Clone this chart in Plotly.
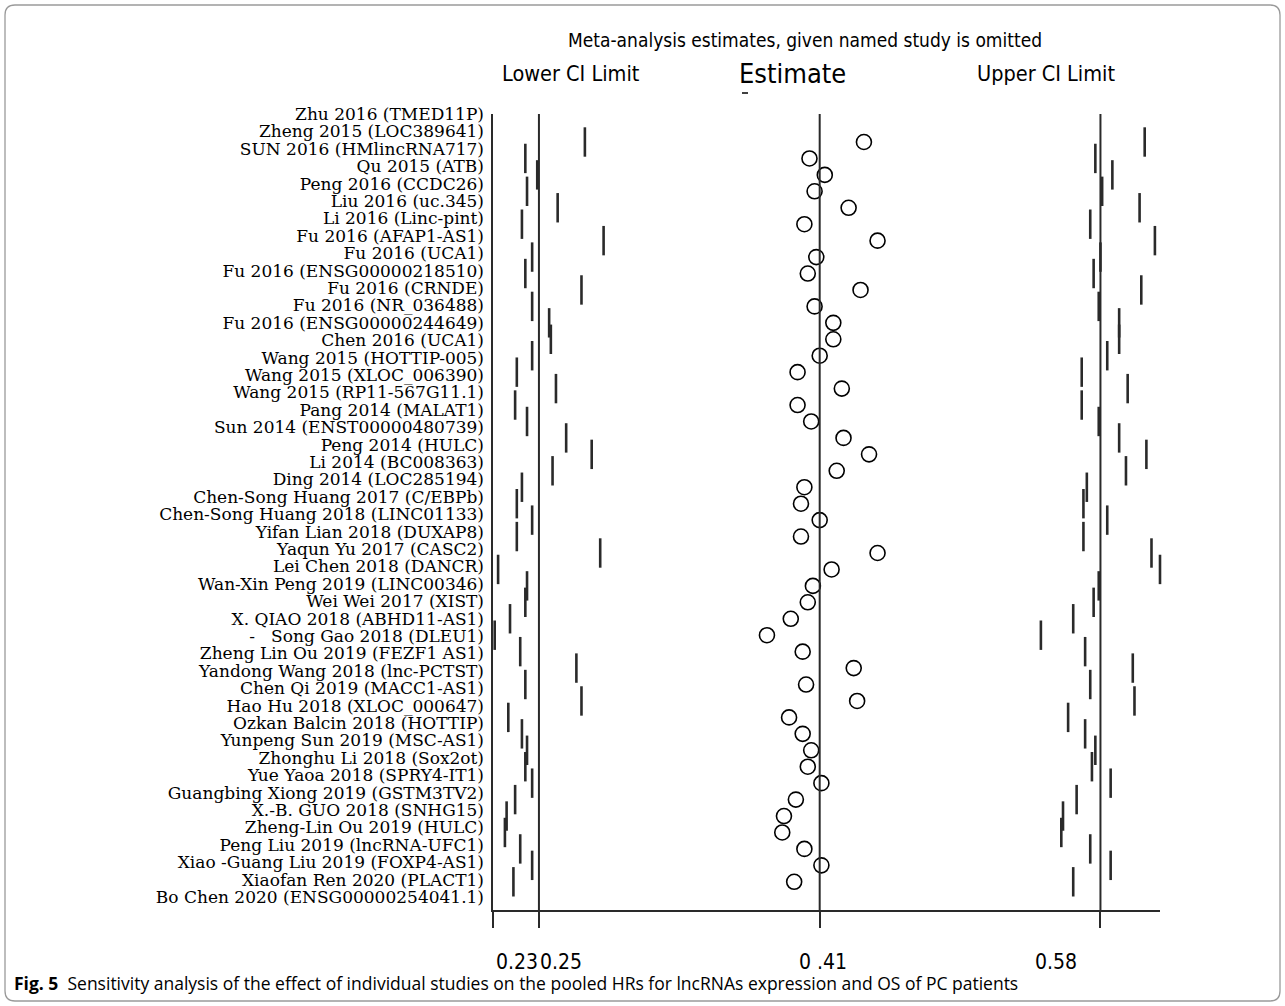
import plotly.graph_objects as go

# Study omitted in each sensitivity run
studies = [
    "Zhu 2016 (TMED11P)", "Zheng 2015 (LOC389641)", "SUN 2016 (HMlincRNA717)",
    "Qu 2015 (ATB)", "Peng 2016 (CCDC26)", "Liu 2016 (uc.345)", "Li 2016 (Linc-pint)",
    "Fu 2016 (AFAP1-AS1)", "Fu 2016 (UCA1)", "Fu 2016 (ENSG00000218510)",
    "Fu 2016 (CRNDE)", "Fu 2016 (NR_036488)", "Fu 2016 (ENSG00000244649)",
    "Chen 2016 (UCA1)", "Wang 2015 (HOTTIP-005)", "Wang 2015 (XLOC_006390)",
    "Wang 2015 (RP11-567G11.1)", "Pang 2014 (MALAT1)", "Sun 2014 (ENST00000480739)",
    "Peng 2014 (HULC)", "Li 2014 (BC008363)", "Ding 2014 (LOC285194)",
    "Chen-Song Huang 2017 (C/EBPb)", "Chen-Song Huang 2018 (LINC01133)",
    "Yifan Lian 2018 (DUXAP8)", "Yaqun Yu 2017 (CASC2)", "Lei Chen 2018 (DANCR)",
    "Wan-Xin Peng 2019 (LINC00346)", "Wei Wei 2017 (XIST)", "X. QIAO 2018 (ABHD11-AS1)",
    "-   Song Gao 2018 (DLEU1)", "Zheng Lin Ou 2019 (FEZF1 AS1)",
    "Yandong Wang 2018 (lnc-PCTST)", "Chen Qi 2019 (MACC1-AS1)",
    "Hao Hu 2018 (XLOC_000647)", "Ozkan Balcin 2018 (HOTTIP)",
    "Yunpeng Sun 2019 (MSC-AS1)", "Zhonghu Li 2018 (Sox2ot)",
    "Yue Yaoa 2018 (SPRY4-IT1)", "Guangbing Xiong 2019 (GSTM3TV2)",
    "X.-B. GUO 2018 (SNHG15)", "Zheng-Lin Ou 2019 (HULC)",
    "Peng Liu 2019 (lncRNA-UFC1)", "Xiao -Guang Liu 2019 (FOXP4-AS1)",
    "Xiaofan Ren 2020 (PLACT1)", "Bo Chen 2020 (ENSG00000254041.1)",
]

# Pooled HR and its 95% CI with the named study left out
lower_ci = [
    0.272, 0.237, 0.244, 0.238, 0.256, 0.235, 0.283, 0.241, 0.237, 0.270,
    0.241, 0.251, 0.252, 0.241, 0.232, 0.255, 0.231, 0.238, 0.261, 0.276,
    0.253, 0.235, 0.232, 0.241, 0.232, 0.281, 0.221, 0.238, 0.237, 0.228,
    0.219, 0.234, 0.267, 0.237, 0.270, 0.227, 0.235, 0.238, 0.237, 0.241,
    0.231, 0.226, 0.225, 0.234, 0.241, 0.230,
]
estimate = [
    0.436, 0.404, 0.413, 0.407, 0.427, 0.401, 0.444, 0.408, 0.403, 0.434,
    0.407, 0.418, 0.418, 0.410, 0.397, 0.423, 0.397, 0.405, 0.424, 0.439,
    0.420, 0.401, 0.399, 0.410, 0.399, 0.444, 0.417, 0.406, 0.403, 0.393,
    0.379, 0.400, 0.430, 0.402, 0.432, 0.392, 0.400, 0.405, 0.403, 0.411,
    0.396, 0.389, 0.388, 0.401, 0.411, 0.395,
]
upper_ci = [
    0.601, 0.572, 0.582, 0.576, 0.598, 0.569, 0.607, 0.575, 0.571, 0.599,
    0.574, 0.586, 0.586, 0.579, 0.564, 0.591, 0.564, 0.574, 0.586, 0.602,
    0.590, 0.567, 0.565, 0.579, 0.565, 0.605, 0.610, 0.574, 0.571, 0.559,
    0.540, 0.566, 0.594, 0.569, 0.595, 0.556, 0.566, 0.572, 0.570, 0.581,
    0.561, 0.553, 0.552, 0.569, 0.581, 0.559,
]

# Overall (all studies) estimate and CI, plus axis limits
pooled_lower = 0.245
pooled_estimate = 0.41
pooled_upper = 0.575
axis_min = 0.218
axis_max = 0.610
tick_values = [axis_min, pooled_lower, pooled_estimate, pooled_upper]
tick_labels = ["0.23", "0.25", "0 .41", "0.58"]

W, H = 1285, 1006
ML, MR, MT, MB = 493, 125, 114, 96
plot_w = W - ML - MR
plot_h = H - MT - MB


def pxx(px):
    return (px - ML) / plot_w


def pxy(py):
    return (MT + plot_h - py) / plot_h


rows = list(range(len(studies)))
dark = "#2a2a2a"

fig = go.Figure()

# lower and upper limits as short vertical strokes
for vals in (lower_ci, upper_ci):
    fig.add_trace(go.Scatter(
        x=vals, y=rows, mode="markers", cliponaxis=False,
        marker=dict(symbol="line-ns", size=21, line=dict(width=2.6, color=dark)),
        hoverinfo="skip", showlegend=False,
    ))

# point estimates as open circles
fig.add_trace(go.Scatter(
    x=estimate, y=rows, mode="markers", cliponaxis=False,
    marker=dict(symbol="circle-open", size=15, color="black", line=dict(width=1.6, color="black")),
    hoverinfo="skip", showlegend=False,
))

# carrier for the study-name axis
fig.add_trace(go.Scatter(
    x=[axis_min] * len(studies), y=rows, yaxis="y2", mode="markers",
    marker=dict(opacity=0), hoverinfo="skip", showlegend=False,
))

# vertical reference lines at the pooled estimate and its limits
shapes = []
for v in (pooled_lower, pooled_estimate, pooled_upper):
    shapes.append(dict(type="line", xref="x", yref="y domain", x0=v, x1=v, y0=0, y1=1,
                       line=dict(color=dark, width=2)))

# short stray dash below the "Estimate" heading
shapes.append(dict(type="line", xref="paper", yref="paper",
                   x0=pxx(742), x1=pxx(748), y0=pxy(93), y1=pxy(93),
                   line=dict(color="black", width=1.5)))

# rounded outer frame
x0, y0, x1, y1, r = 5, 5, 1280, 1001, 10
pts = lambda a, b: f"{pxx(a):.5f},{pxy(b):.5f}"
path = (f"M {pts(x0 + r, y0)} L {pts(x1 - r, y0)} Q {pts(x1, y0)} {pts(x1, y0 + r)} "
        f"L {pts(x1, y1 - r)} Q {pts(x1, y1)} {pts(x1 - r, y1)} "
        f"L {pts(x0 + r, y1)} Q {pts(x0, y1)} {pts(x0, y1 - r)} "
        f"L {pts(x0, y0 + r)} Q {pts(x0, y0)} {pts(x0 + r, y0)} Z")
shapes.append(dict(type="path", xref="paper", yref="paper", path=path,
                   line=dict(color="#9a9a9a", width=1.3)))

narrow = "Liberation Sans Narrow, DejaVu Sans Condensed, Arial Narrow, sans-serif"
annotations = [
    dict(text="Meta-analysis estimates, given named study is omitted", x=pxx(805), y=pxy(40),
         font=dict(family=narrow, size=19, color="black")),
    dict(text="Lower CI Limit", x=pxx(571), y=pxy(73), font=dict(family=narrow, size=21.5, color="black")),
    dict(text="Estimate", x=pxx(792), y=pxy(73), font=dict(family=narrow, size=27, color="black")),
    dict(text="Upper CI Limit", x=pxx(1046), y=pxy(73), font=dict(family=narrow, size=21.5, color="black")),
    dict(text="<b>Fig. 5</b>  Sensitivity analysis of the effect of individual studies on the pooled HRs "
              "for lncRNAs expression and OS of PC patients",
         x=pxx(12), y=pxy(983), xanchor="left",
         font=dict(family="Open Sans, Lato, sans-serif", size=17.5, color="black")),
]
# axis value labels under the ticks
label_shift = [24, 22, 3, -44]
for v, t, s in zip(tick_values, tick_labels, label_shift):
    annotations.append(dict(text=t, x=v, xref="x", y=pxy(962), xshift=s,
                            font=dict(family=narrow, size=21, color="black")))
for a in annotations:
    a.setdefault("xref", "paper")
    a.setdefault("yref", "paper")
    a.setdefault("showarrow", False)
    a.setdefault("xanchor", "center")
    a.setdefault("yanchor", "middle")

# rows of marks: first row 142 px, pitch 16.44 px; names: first 114 px, pitch 17.4 px
row_top, row_pitch = 142, 16.44
name_top, name_pitch = 114, 17.4
y_range = [(MT + plot_h - row_top) / row_pitch, (MT - row_top) / row_pitch]
y2_range = [(MT + plot_h - name_top) / name_pitch, (MT - name_top) / name_pitch - 0.001]

fig.update_layout(
    width=W, height=H,
    margin=dict(l=ML, r=MR, t=MT, b=MB, pad=0),
    paper_bgcolor="white", plot_bgcolor="white",
    shapes=shapes, annotations=annotations,
    xaxis=dict(range=[axis_min, axis_max], showgrid=False, zeroline=False,
               showline=True, linecolor=dark, linewidth=2,
               ticks="outside", ticklen=16, tickwidth=2, tickcolor=dark,
               tickvals=tick_values, showticklabels=False),
    yaxis=dict(range=y_range, showgrid=False, zeroline=False, showline=True,
               linecolor=dark, linewidth=2, showticklabels=False, ticks=""),
    yaxis2=dict(range=y2_range, overlaying="y", side="left", anchor="x",
                showgrid=False, zeroline=False, showline=False, ticks="",
                tickvals=rows, ticktext=studies, ticklabelstandoff=8,
                tickfont=dict(family="DejaVu Serif, Liberation Serif, serif", size=17, color="black")),
)

fig.write_html("out.html")
